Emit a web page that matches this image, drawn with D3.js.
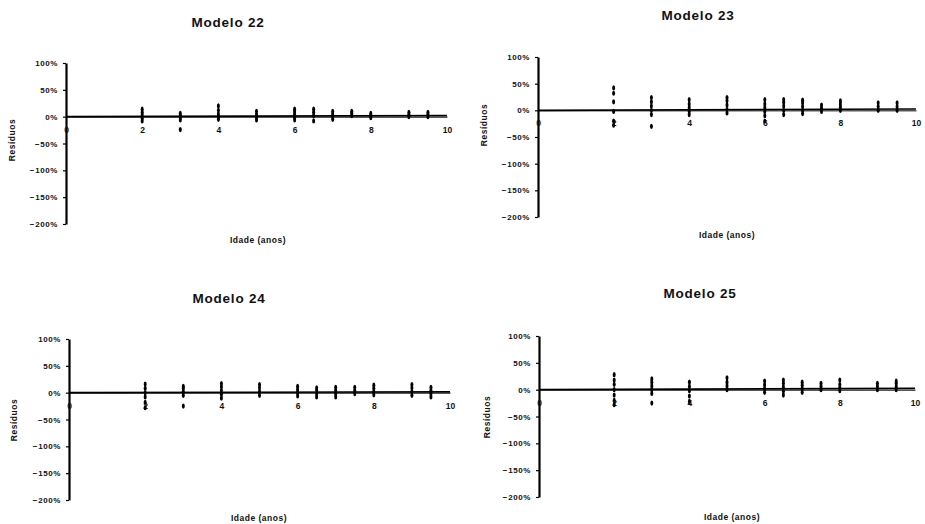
<!DOCTYPE html>
<html>
<head>
<meta charset="utf-8">
<script src="https://cdn.jsdelivr.net/npm/d3@7"></script>
<style>
  html, body { margin: 0; padding: 0; background: #fff; }
  svg { display: block; }
  text { font-family: "Liberation Sans", Arial, sans-serif; fill: #111; }
</style>
</head>
<body>
<svg id="chart" width="925" height="524"></svg>
<script>
// ---------- DATA ----------
const titles = ["Modelo 22", "Modelo 23", "Modelo 24", "Modelo 25"];
const xAxisTitle = "Idade (anos)";
const yAxisTitle = "Resíduos";
const xTicks = [0, 2, 4, 6, 8, 10];
const yTicks = [1, 0.5, 0, -0.5, -1, -1.5, -2];
const ages = [2, 3, 4, 5, 6, 6.5, 7, 7.5, 8, 9, 9.5];

// residuals (fraction) per age, one list per age
const residuos22 = [
  [-0.08, -0.03, 0.03, 0.08, 0.14],
  [-0.24, -0.06, -0.02, 0.02, 0.06],
  [-0.05, 0.0, 0.05, 0.12, 0.2],
  [-0.06, -0.01, 0.04, 0.1],
  [-0.06, -0.01, 0.04, 0.09, 0.14],
  [-0.08, 0.02, 0.08, 0.14],
  [-0.05, 0.0, 0.05, 0.1],
  [0.02, 0.06, 0.1],
  [-0.02, 0.02, 0.06],
  [0.0, 0.04, 0.08],
  [0.0, 0.04, 0.08]
];
const residuos23 = [
  [-0.28, -0.2, -0.02, 0.16, 0.32, 0.42],
  [-0.3, -0.08, 0.0, 0.08, 0.16, 0.24],
  [-0.08, -0.02, 0.05, 0.12, 0.2],
  [-0.05, 0.02, 0.1, 0.18, 0.24],
  [-0.2, -0.1, -0.02, 0.05, 0.12, 0.2],
  [-0.08, 0.0, 0.08, 0.15, 0.2],
  [-0.06, 0.0, 0.07, 0.14, 0.19],
  [-0.02, 0.04, 0.1],
  [0.0, 0.06, 0.12, 0.18],
  [0.0, 0.07, 0.14],
  [0.0, 0.07, 0.14]
];
const residuos24 = [
  [-0.28, -0.18, -0.08, 0.0, 0.08, 0.16],
  [-0.25, -0.05, 0.02, 0.08, 0.12],
  [-0.1, -0.03, 0.04, 0.11, 0.17],
  [-0.05, 0.02, 0.09, 0.15],
  [-0.06, 0.0, 0.06, 0.12],
  [-0.08, -0.02, 0.04, 0.09],
  [-0.08, -0.02, 0.04, 0.1],
  [-0.02, 0.04, 0.1],
  [-0.04, 0.02, 0.08, 0.14],
  [-0.05, 0.02, 0.09, 0.15],
  [-0.08, -0.02, 0.04, 0.1]
];
const residuos25 = [
  [-0.28, -0.2, -0.1, 0.0, 0.1, 0.18, 0.28],
  [-0.25, -0.07, 0.0, 0.07, 0.14, 0.2],
  [-0.22, -0.12, -0.02, 0.06, 0.14],
  [0.0, 0.07, 0.14, 0.22],
  [-0.05, 0.02, 0.09, 0.16],
  [-0.1, -0.03, 0.05, 0.12, 0.18],
  [-0.05, 0.02, 0.08, 0.14],
  [0.0, 0.06, 0.12],
  [-0.02, 0.04, 0.1, 0.18],
  [0.0, 0.06, 0.12],
  [0.0, 0.06, 0.12, 0.16]
];
// trend of residuals across age (start, end)
const trendAges = [0, 10];
const trend22 = [0.0, 0.02];
const trend23 = [0.0, 0.025];
const trend24 = [0.0, 0.015];
const trend25 = [0.0, 0.025];

const residuals = [residuos22, residuos23, residuos24, residuos25];
const trends = [trend22, trend23, trend24, trend25];

// ---------- LAYOUT ----------
const layout = [
  { x0: 66,  x1: 447, yTop: 63,  yBot: 224, tx: 228, ty: 27,  ax: 258, ay: 243, rx: 12,  ry: 140 },
  { x0: 538, x1: 916, yTop: 57,  yBot: 217, tx: 698, ty: 20,  ax: 727, ay: 238, rx: 484, ry: 125 },
  { x0: 69,  x1: 450, yTop: 339, yBot: 500, tx: 229, ty: 303, ax: 259, ay: 521, rx: 14,  ry: 420 },
  { x0: 539, x1: 915, yTop: 336, yBot: 497, tx: 700, ty: 298, ax: 732, ay: 520, rx: 487, ry: 417 }
];

const svg = d3.select("#chart");
const pct = d3.format(".0%");

layout.forEach((L, i) => {
  const g = svg.append("g");
  const x = d3.scaleLinear().domain([0, 10]).range([L.x0, L.x1]);
  const y = d3.scaleLinear().domain([-2, 1]).range([L.yBot, L.yTop]);

  // title
  g.append("text")
    .attr("x", L.tx).attr("y", L.ty)
    .attr("text-anchor", "middle")
    .style("font-size", "13.5px").style("font-weight", "bold")
    .style("letter-spacing", "0.8px")
    .text(titles[i]);

  // y axis
  const yAxis = d3.axisLeft(y).tickValues(yTicks).tickFormat(pct)
    .tickSize(3).tickSizeOuter(0).tickPadding(5);
  const yg = g.append("g").attr("transform", `translate(${L.x0},0)`).call(yAxis);
  yg.select(".domain").attr("stroke", "#000").attr("stroke-width", 2.2);
  yg.selectAll(".tick line").attr("stroke", "#000").attr("stroke-width", 1.2);
  yg.selectAll(".tick text")
    .style("font-size", "8px").style("font-weight", "bold")
    .style("letter-spacing", "0.6px")
    .style("font-family", "'Liberation Sans', Arial, sans-serif")
    .attr("fill", "#111");

  // x axis through 0%
  const xAxis = d3.axisBottom(x).tickValues(xTicks).tickFormat(d3.format("d"))
    .tickSize(0).tickSizeOuter(0).tickPadding(10);
  const xg = g.append("g").attr("transform", `translate(0,${y(0)})`).call(xAxis);
  xg.select(".domain").attr("stroke", "#000").attr("stroke-width", 1);
  xg.selectAll(".tick text")
    .style("font-size", "8.5px").style("font-weight", "bold")
    .style("font-family", "'Liberation Sans', Arial, sans-serif")
    .attr("fill", "#111");

  // trend line
  const line = d3.line().x((d, k) => x(trendAges[k])).y(d => y(d));
  g.append("path").datum(trends[i])
    .attr("d", line)
    .attr("fill", "none").attr("stroke", "#000").attr("stroke-width", 1.6);

  // residual points
  const pts = [];
  residuals[i].forEach((vals, k) => vals.forEach(v => pts.push({ a: ages[k], v })));
  g.selectAll("ellipse.pt").data(pts).join("ellipse")
    .attr("class", "pt")
    .attr("cx", d => x(d.a)).attr("cy", d => y(d.v))
    .attr("rx", 1.5).attr("ry", 2.6)
    .attr("fill", "#000");

  // axis titles
  g.append("text")
    .attr("x", L.ax).attr("y", L.ay)
    .attr("text-anchor", "middle")
    .style("font-size", "8.5px").style("font-weight", "bold")
    .style("letter-spacing", "0.5px")
    .text(xAxisTitle);
  g.append("text")
    .attr("transform", `translate(${L.rx + 3},${L.ry}) rotate(-90)`)
    .attr("text-anchor", "middle")
    .style("font-size", "8.5px").style("font-weight", "bold")
    .style("letter-spacing", "0.5px")
    .text(yAxisTitle);
});
</script>
</body>
</html>
